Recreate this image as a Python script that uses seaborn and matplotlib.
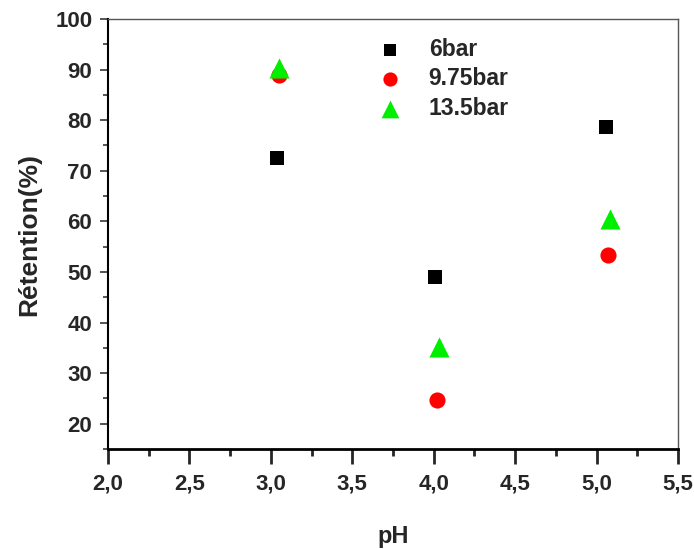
import matplotlib
matplotlib.use("Agg")
import matplotlib.pyplot as plt
import seaborn as sns
import pandas as pd
from matplotlib.ticker import MultipleLocator, FuncFormatter

sns.set_theme(style="ticks")
plt.rcParams['font.family'] = ['Liberation Sans', 'DejaVu Sans']
plt.rcParams['font.weight'] = 'bold'

series = ["6bar", "9.75bar", "13.5bar"]
ph_6 = [3.04, 4.01, 5.06]
ret_6 = [72.5, 49.0, 78.7]
ph_975 = [3.05, 4.02, 5.07]
ret_975 = [89.0, 24.6, 53.4]
ph_135 = [3.05, 4.03, 5.08]
ret_135 = [90.3, 35.2, 60.5]

colors = ["#000000", "#ff0000", "#00ee00"]
markers = ["s", "o", "^"]
sizes = [90, 135, 210]

df = pd.DataFrame({
    "pH": ph_6 + ph_975 + ph_135,
    "ret": ret_6 + ret_975 + ret_135,
    "serie": [series[0]] * 3 + [series[1]] * 3 + [series[2]] * 3,
})

fig = plt.figure(figsize=(6.94, 5.49), dpi=100)
ax = fig.add_axes([0.1556, 0.1821, 0.977 - 0.1556, 0.9654 - 0.1821])

for s, c, m, sz in zip(series, colors, markers, sizes):
    sub = df[df["serie"] == s]
    sns.scatterplot(data=sub, x="pH", y="ret", color=c, marker=m, s=sz,
                    linewidth=0, label=s, ax=ax)

ax.set_xlim(2.0, 5.5)
ax.set_ylim(15, 100)
ax.xaxis.set_major_locator(MultipleLocator(0.5))
ax.xaxis.set_minor_locator(MultipleLocator(0.25))
ax.yaxis.set_major_locator(MultipleLocator(10))
ax.yaxis.set_minor_locator(MultipleLocator(5))
ax.set_yticks([20, 30, 40, 50, 60, 70, 80, 90, 100])
ax.xaxis.set_major_formatter(FuncFormatter(lambda v, p: f"{v:.1f}".replace(".", ",")))

ax.tick_params(axis="x", which="major", direction="out", length=10.8, width=2.0, labelsize=16, pad=7)
ax.tick_params(axis="x", which="minor", direction="out", length=5, width=2.0)
ax.tick_params(axis="y", which="major", direction="out", length=5.8, width=1.1, labelsize=16, pad=5.5)
ax.tick_params(axis="y", which="minor", direction="out", length=3.6, width=1.1)
for lab in ax.get_xticklabels() + ax.get_yticklabels():
    lab.set_fontweight("bold")

ax.spines["left"].set_linewidth(1.5)
ax.spines["bottom"].set_linewidth(2.0)
ax.spines["left"].set_color("black")
ax.spines["bottom"].set_color("black")
ax.spines["top"].set_linewidth(1.0)
ax.spines["right"].set_linewidth(1.0)
ax.spines["top"].set_color("#555555")
ax.spines["right"].set_color("#555555")

ax.set_xlabel("pH", fontsize=17, fontweight="bold", labelpad=22)
ax.set_ylabel("Rétention(%)", fontsize=19, fontweight="bold", labelpad=10)

leg = ax.legend(loc="upper left", bbox_to_anchor=(0.458, 0.978), frameon=False,
                borderaxespad=0, prop={"weight": "bold", "size": 16.5},
                handlelength=1.0, handletextpad=1.2,
                labelspacing=0.3, markerscale=0.88)

fig.savefig("out.png", dpi=100)
